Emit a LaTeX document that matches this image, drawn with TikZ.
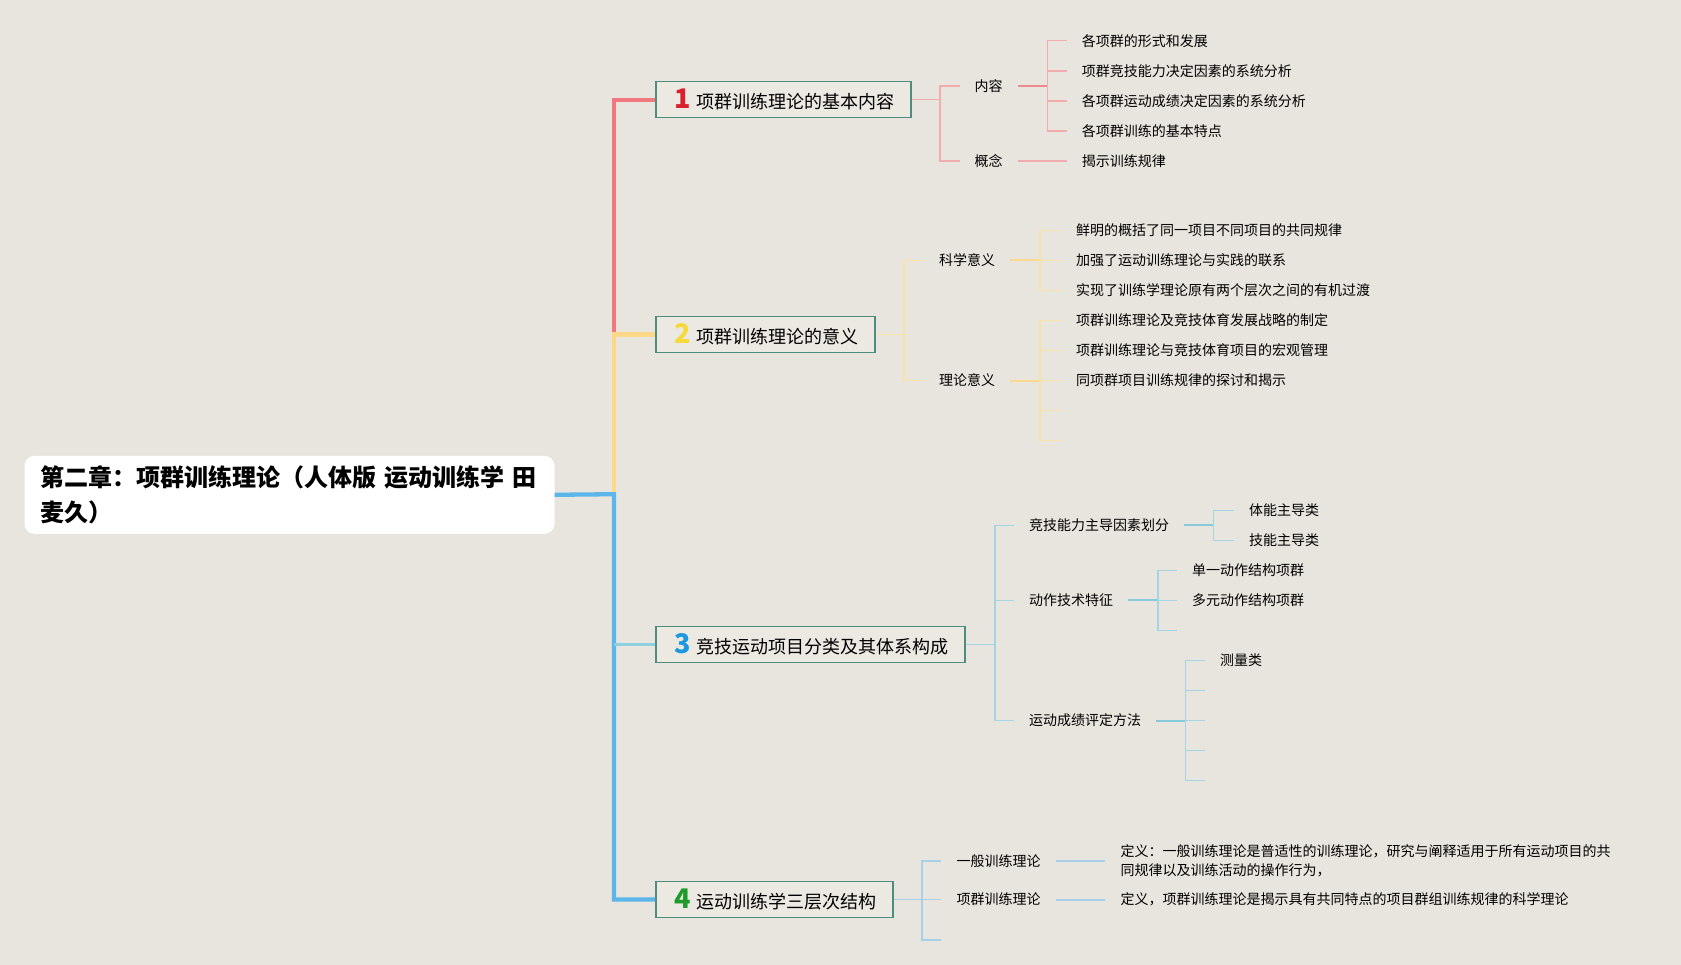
\documentclass[tikz,border=0pt]{standalone}
\usepackage{fontspec}
\setmainfont{Noto Sans CJK SC}
\usetikzlibrary{positioning}
\definecolor{bgpaper}{HTML}{E8E5DE}
\definecolor{boxfill}{HTML}{ECE9E3}
\definecolor{boxline}{HTML}{4F8C7E}
\definecolor{redtrunk}{HTML}{F0787E}
\definecolor{yellowtrunk}{HTML}{FDD987}
\definecolor{bluetrunk}{HTML}{5DB6EA}
\definecolor{tealtrunk}{HTML}{8FD0E0}
\definecolor{redlink}{HTML}{EC8A8F}
\definecolor{redsoft}{HTML}{F3ABAE}
\definecolor{yellowlink}{HTML}{FAD98C}
\definecolor{yellowsoft}{HTML}{FBE3A8}
\definecolor{teallink}{HTML}{86CADB}
\definecolor{tealsoft}{HTML}{A3D5E2}
\definecolor{bluesoft}{HTML}{A7CFE8}
\definecolor{numred}{HTML}{D8202F}
\definecolor{numyellow}{HTML}{F6D93B}
\definecolor{numblue}{HTML}{1C98DE}
\definecolor{numgreen}{HTML}{1E9B2C}
\tikzset{
  rootnode/.style={fill=white, rounded corners=10pt, align=left, text width=498pt,
    inner xsep=16pt, minimum height=78pt, font=\fontsize{24}{35.5}\selectfont\bfseries},
  topic/.style={draw=boxline, line width=1.6pt, fill=boxfill, anchor=west, align=left,
    inner xsep=19pt, minimum height=36pt, font=\fontsize{18}{22}\selectfont},
  sub/.style={anchor=west, inner xsep=15pt, inner ysep=2pt, align=left,
    font=\fontsize{14}{19.3}\selectfont},
  trunk/.style={line width=4.3pt},
  link/.style={line width=2pt},
  stub/.style={line width=1.5pt},
}
\newcommand{\topicnum}[2]{{\fontsize{27}{27}\selectfont\bfseries\color{#1}#2}\hspace{5pt}}

\begin{document}
\begin{tikzpicture}[x=1pt, y=-1pt]
\fill[bgpaper] (0,0) rectangle (1681,965);
\useasboundingbox (0,0) rectangle (1681,965);

% Root and main topics
\node[rootnode] (root) at (289.5,494.8) {第二章：项群训练理论（人体版 运动训练学 田\\麦久）};
\node[topic, text width=217pt] (t1) at (655,99.7) {\mbox{\topicnum{numred}{1}项群训练理论的基本内容}};
\node[topic, text width=181pt] (t2) at (655,334.5) {\mbox{\topicnum{numyellow}{2}项群训练理论的意义}};
\node[topic, text width=271pt] (t3) at (655,644.3) {\mbox{\topicnum{numblue}{3}竞技运动项目分类及其体系构成}};
\node[topic, text width=199pt] (t4) at (655,899.5) {\mbox{\topicnum{numgreen}{4}运动训练学三层次结构}};

\coordinate (ja) at (614,99.7);
\coordinate (jb) at (614,334.5);
\coordinate (jr) at (614,494.2);
\coordinate (jc) at (614,644.3);
\coordinate (jd) at (614,899.5);

\draw[trunk, redtrunk] (t1.west) -- (ja) -- (jb);
\draw[trunk, yellowtrunk] (t2.west) -- (jb) -- (jr);
\draw[trunk, bluetrunk] (root.east) -- (jr) -- (jd) -- (t4.west);
\draw[trunk, tealtrunk, line width=3pt] (jc) -- (t3.west);

% Branch 1
\coordinate (k1) at (940,99.7);
\node[sub] (neirong) at (959.5,85.8) {内容};
\node[sub] (gainian) at (959.5,160.8) {概念};
\draw[stub, redsoft] (t1.east) -- (k1) |- (neirong.west);
\draw[stub, redsoft] (k1) |- (gainian.west);

\coordinate (k11) at (1047.4,85.8);
\node[sub] (xingshi) at (1066.7,40.7) {各项群的形式和发展};
\node[sub] (jingji) at (1066.7,70.8) {项群竞技能力决定因素的系统分析};
\node[sub] (chengji) at (1066.7,100.8) {各项群运动成绩决定因素的系统分析};
\node[sub] (tedian) at (1066.7,130.8) {各项群训练的基本特点};
\draw[link, redlink] (neirong.east) -- (k11);
\draw[stub, redsoft] (k11) |- (xingshi.west);
\draw[stub, redsoft] (k11) |- (jingji.west);
\draw[stub, redsoft] (k11) |- (chengji.west);
\draw[stub, redsoft] (k11) |- (tedian.west);

\node[sub] (jieshi) at (1066.7,160.8) {揭示训练规律};
\draw[stub, redsoft] (gainian.east) -- (jieshi.west);

% Branch 2
\coordinate (k2) at (903.8,334.5);
\node[sub] (kexue) at (924,260.5) {科学意义};
\node[sub] (lilun) at (924,380.6) {理论意义};
\draw[stub, yellowsoft] (t2.east) -- (k2) |- (kexue.west);
\draw[stub, yellowsoft] (k2) |- (lilun.west);

\coordinate (k21) at (1040,260.5);
\node[sub] (gaikuo) at (1061,230.5) {鲜明的概括了同一项目不同项目的共同规律};
\node[sub] (jiaqiang) at (1061,260.5) {加强了运动训练理论与实践的联系};
\node[sub] (guodu) at (1061,290.5) {实现了训练学理论原有两个层次之间的有机过渡};
\draw[link, yellowlink] (kexue.east) -- (k21);
\draw[stub, yellowsoft] (k21) |- (gaikuo.west);
\draw[stub, yellowsoft] (k21) |- (jiaqiang.west);
\draw[stub, yellowsoft] (k21) |- (guodu.west);

\coordinate (k22) at (1040,380.6);
\node[sub] (zhanlue) at (1061,320.6) {项群训练理论及竞技体育发展战略的制定};
\node[sub] (hongguan) at (1061,350.6) {项群训练理论与竞技体育项目的宏观管理};
\node[sub] (tantao) at (1061,380.6) {同项群项目训练规律的探讨和揭示};
\coordinate (blank21) at (1061,410.6);
\coordinate (blank22) at (1061,440.6);
\draw[link, yellowlink] (lilun.east) -- (k22);
\draw[stub, yellowsoft] (k22) |- (zhanlue.west);
\draw[stub, yellowsoft] (k22) |- (hongguan.west);
\draw[stub, yellowsoft] (k22) |- (tantao.west);
\draw[stub, yellowsoft] (k22) |- (blank21);
\draw[stub, yellowsoft] (k22) |- (blank22);

% Branch 3
\coordinate (k3) at (995,644.3);
\node[sub] (zhudao) at (1014,525.3) {竞技能力主导因素划分};
\node[sub] (dongzuo) at (1014,600.4) {动作技术特征};
\node[sub] (pingding) at (1014,720.5) {运动成绩评定方法};
\draw[stub, tealsoft] (t3.east) -- (k3) |- (zhudao.west);
\draw[stub, tealsoft] (k3) |- (dongzuo.west);
\draw[stub, tealsoft] (k3) |- (pingding.west);

\coordinate (k31) at (1213.6,525.3);
\node[sub] (tineng) at (1234,510.3) {体能主导类};
\node[sub] (jineng) at (1234,540.3) {技能主导类};
\draw[link, teallink] (zhudao.east) -- (k31);
\draw[stub, tealsoft] (k31) |- (tineng.west);
\draw[stub, tealsoft] (k31) |- (jineng.west);

\coordinate (k32) at (1157.9,600.4);
\node[sub] (danyi) at (1177,570.4) {单一动作结构项群};
\node[sub] (duoyuan) at (1177,600.4) {多元动作结构项群};
\coordinate (blank31) at (1177,630.4);
\draw[link, teallink] (dongzuo.east) -- (k32);
\draw[stub, tealsoft] (k32) |- (danyi.west);
\draw[stub, tealsoft] (k32) |- (duoyuan.west);
\draw[stub, tealsoft] (k32) |- (blank31);

\coordinate (k33) at (1185.7,720.5);
\node[sub] (celiang) at (1205,660.4) {测量类};
\coordinate (blank32) at (1205,690.4);
\coordinate (blank33) at (1205,720.5);
\coordinate (blank34) at (1205,750.5);
\coordinate (blank35) at (1205,780.5);
\draw[link, teallink] (pingding.east) -- (k33);
\draw[stub, tealsoft] (k33) |- (celiang.west);
\draw[stub, tealsoft] (k33) |- (blank32);
\draw[stub, tealsoft] (k33) |- (blank33);
\draw[stub, tealsoft] (k33) |- (blank34);
\draw[stub, tealsoft] (k33) |- (blank35);

% Branch 4
\coordinate (k4) at (922,899.5);
\node[sub] (yiban) at (941.3,860.9) {一般训练理论};
\node[sub] (xiangqun) at (941.3,899.5) {项群训练理论};
\coordinate (blank41) at (941.3,940.2);
\draw[stub, bluesoft] (t4.east) -- (k4) |- (yiban.west);
\draw[stub, bluesoft] (k4) |- (xiangqun.west);
\draw[stub, bluesoft] (k4) |- (blank41);

\node[sub] (dingyi1) at (1105.3,860.9) {定义：一般训练理论是普适性的训练理论，研究与阐释适用于所有运动项目的共\\同规律以及训练活动的操作行为，};
\node[sub] (dingyi2) at (1105.3,899.5) {定义，项群训练理论是揭示具有共同特点的项目群组训练规律的科学理论};
\draw[link, bluesoft] (yiban.east) -- (dingyi1.west);
\draw[link, bluesoft] (xiangqun.east) -- (dingyi2.west);

\end{tikzpicture}
\end{document}
